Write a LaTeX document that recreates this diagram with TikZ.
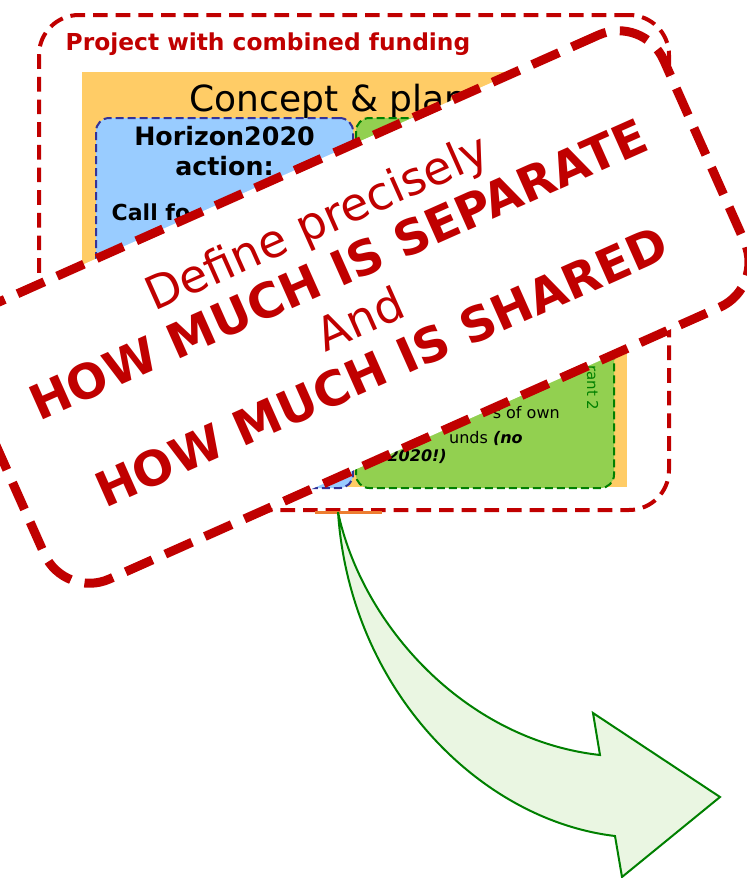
\documentclass[tikz,border=0pt]{standalone}
\usepackage{fontspec}
\setmainfont{DejaVu Sans}
\usetikzlibrary{positioning, calc, shapes}
\definecolor{darkred}{RGB}{192,0,0}
\definecolor{orangebg}{RGB}{255,204,102}
\definecolor{lightblue}{RGB}{153,204,255}
\definecolor{navy}{RGB}{51,51,153}
\definecolor{leaf}{RGB}{146,208,80}
\definecolor{darkgreen}{RGB}{0,128,0}
\definecolor{arrowfill}{RGB}{234,246,226}
\definecolor{barorange}{RGB}{237,125,49}
\newcommand\bigbold[1]{{\fontsize{36pt}{40pt}\selectfont\bfseries #1}}

\begin{document}
\begin{tikzpicture}[x=0.75pt,y=-0.75pt,
    fund/.style={draw, dash pattern=on 6pt off 3pt, line width=1.5pt, rounded corners=10pt, anchor=north west, inner sep=0pt},
    stamp/.style={draw=darkred, fill=white, line width=6.75pt, dash pattern=on 22pt off 10.5pt, rounded corners=37pt}]
    \useasboundingbox (0,0) rectangle (746,878);
    \node[draw=darkred, line width=3pt, dash pattern=on 11pt off 6pt, rounded corners=30pt, anchor=north west, minimum width=472.5pt, minimum height=371.25pt] (project) at (37,13) {};
    \node[anchor=base west, text=darkred, font=\bfseries\fontsize{17.5pt}{20pt}\selectfont] (title) at (61,50) {Project with combined funding};
    \node[fill=orangebg, anchor=north west, inner sep=0pt, minimum width=408.75pt, minimum height=311.25pt] (concept) at (82,72) {};
    \node[anchor=base west, font=\fontsize{27pt}{32pt}\selectfont] (plan) at (185,111) {Concept \& plan};
    \node[fund, draw=navy, fill=lightblue, minimum width=192.75pt, minimum height=277.5pt] (horizon) at (95,117) {};
    \node[below=6.5pt of horizon.north, inner sep=0pt, align=center, font=\bfseries\fontsize{19pt}{22.5pt}\selectfont] (action) {Horizon2020\\action:};
    \node[anchor=base west, font=\bfseries\fontsize{16.5pt}{20pt}\selectfont] (call) at (107,220) {Call fo};
    \node[fund, draw=darkgreen, fill=leaf, minimum width=193.5pt, minimum height=277.5pt] (national) at (355,117) {};
    \node[anchor=base east, inner sep=0pt, font=\fontsize{12pt}{14pt}\selectfont] (own) at (560,418) {s of own};
    \node[anchor=base east, inner sep=0pt, font=\fontsize{12pt}{14pt}\selectfont] (funds) at (523,443) {unds \textbf{\itshape(no}};
    \node[anchor=base east, inner sep=0pt, font=\bfseries\itshape\fontsize{12pt}{14pt}\selectfont] (h2020) at (447,461) {2020!)};
    \node[rotate=-90, anchor=base west, inner sep=0pt, text=darkgreen, font=\fontsize{11.25pt}{14pt}\selectfont] (grant) at (587,365) {rant 2};
    \draw[barorange, line width=2.25pt] (315,512) -- (382,512);
    % curved block arrow
    \draw[darkgreen, line width=1.5pt, fill=arrowfill, line join=miter] (338,512) .. controls (362,625) and (465,740) .. (600,755) -- (593,713) -- (720,797) -- (622,877) -- (615,836) .. controls (480,820) and (350,690) .. (338,512) -- cycle;
    % stamp on top
    \node[stamp, rotate=24, minimum width=575pt, minimum height=223.5pt] (stampbox) at (354,307) {};
    \node[rotate=24, text=darkred, align=center, inner sep=0pt, font=\fontsize{34.5pt}{40pt}\selectfont] (message) at (349,294) {Define precisely\\\bigbold{HOW MUCH IS SEPARATE}\\And\\\bigbold{HOW MUCH IS SHARED}};
\end{tikzpicture}
\end{document}
